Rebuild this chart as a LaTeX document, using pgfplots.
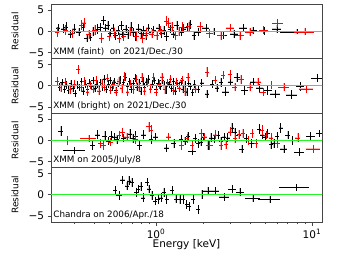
\documentclass[border=0pt]{standalone}
\usepackage{pgfplots}
\usepackage{pgfplotstable}
\pgfplotsset{compat=1.18}
\usepackage{fontspec}
\setmainfont{DejaVu Sans}
\definecolor{limeg}{RGB}{40,245,40}
\definecolor{frame}{RGB}{70,70,70}

% ---------- Panel 1: XMM faint ----------
\pgfplotstableread{
x y ex ey
0.235 0.8 0.035 1.0
0.253 0.6 0.035 1.0
0.265 1.0 0.035 1.1
0.281 -0.6 0.035 1.0
0.298 0.6 0.035 1.0
0.320 -0.2 0.035 1.0
0.340 1.0 0.035 1.1
0.360 -1.6 0.035 1.0
0.378 -1.4 0.035 1.0
0.393 0.0 0.035 1.0
0.420 0.5 0.035 1.1
0.440 1.0 0.035 1.0
0.460 2.5 0.035 1.1
0.475 0.8 0.035 1.0
0.490 1.4 0.035 1.1
0.510 -0.4 0.035 1.0
0.530 0.8 0.035 1.0
0.550 -1.0 0.035 1.0
0.570 0.2 0.035 1.0
0.600 1.4 0.035 1.1
0.610 -0.6 0.035 1.0
0.640 0.5 0.035 1.0
0.660 -0.8 0.035 1.0
0.690 1.0 0.035 1.1
0.710 -0.2 0.035 1.0
0.740 -1.2 0.035 1.0
0.770 0.6 0.035 1.0
0.800 -0.5 0.035 1.0
0.830 0.2 0.035 1.0
0.860 -1.0 0.035 1.0
0.890 0.8 0.035 1.0
0.930 -0.3 0.035 1.0
0.960 0.3 0.035 1.0
1.000 -1.0 0.035 1.0
1.040 0.8 0.035 1.0
1.080 -0.5 0.035 1.0
1.120 0.2 0.035 1.0
1.170 -1.2 0.035 1.0
1.230 0.5 0.035 1.0
1.290 -0.6 0.035 1.0
1.360 1.4 0.035 1.1
1.450 -0.2 0.035 1.0
1.500 0.6 0.035 1.0
1.580 1.0 0.035 1.0
1.650 1.6 0.035 1.0
1.750 -1.0 0.035 1.0
1.860 -0.2 0.04 1.0
2.090 0.8 0.05 1.0
2.350 0.0 0.06 0.8
2.690 -1.0 0.06 0.8
3.160 -0.6 0.06 0.9
3.610 0.8 0.06 0.9
4.180 0.2 0.06 0.9
4.930 0.0 0.07 0.9
5.960 0.6 0.07 0.9
8.000 -0.1 0.22 0.6
}\pA
\pgfplotstableread{
x y ex ey
0.232 -0.2 0.035 1.2
0.262 0.3 0.035 1.2
0.290 -0.5 0.035 1.1
0.330 1.4 0.035 1.2
0.345 2.0 0.035 1.2
0.370 -0.8 0.035 1.1
0.405 0.3 0.035 1.2
0.445 -1.6 0.035 1.1
0.500 -1.2 0.035 1.1
0.540 -0.4 0.035 1.1
0.580 -1.6 0.035 1.1
0.620 -1.2 0.035 1.1
0.680 0.0 0.035 1.1
0.750 -1.2 0.035 1.1
0.820 -1.6 0.035 1.1
0.870 -0.4 0.035 1.1
0.940 -0.6 0.035 1.1
1.010 -1.0 0.035 1.1
1.070 0.2 0.035 1.1
1.170 2.4 0.035 1.2
1.200 2.0 0.035 1.2
1.260 1.0 0.035 1.1
1.330 -1.0 0.035 1.1
1.400 0.0 0.035 1.1
1.480 1.0 0.035 1.1
1.620 1.1 0.04 1.1
1.920 1.1 0.045 1.1
2.200 -0.5 0.05 1.0
2.600 -1.0 0.06 1.0
3.000 0.8 0.06 1.0
3.450 -1.0 0.07 1.0
4.000 -0.2 0.07 1.0
4.900 0.3 0.07 1.0
6.000 1.9 0.08 1.0
9.000 -0.1 0.15 0.8
}\pAr

% ---------- Panel 2: XMM bright ----------
\pgfplotstableread{
x y ex ey
0.240 -0.3 0.025 0.9
0.250 0.8 0.025 0.9
0.258 -0.8 0.025 0.9
0.266 0.2 0.025 0.9
0.275 -1.0 0.025 0.9
0.284 0.5 0.025 0.9
0.293 -0.6 0.025 0.9
0.302 -1.8 0.025 0.9
0.312 0.2 0.025 0.9
0.322 -0.4 0.025 0.9
0.332 1.0 0.025 0.9
0.342 -1.2 0.025 0.9
0.352 0.4 0.025 0.9
0.362 -0.8 0.025 0.9
0.372 0.6 0.025 0.9
0.383 -0.2 0.025 0.9
0.394 1.2 0.025 0.9
0.405 -0.6 0.025 0.9
0.417 0.3 0.025 0.9
0.429 -1.0 0.025 0.9
0.441 0.8 0.025 0.9
0.454 -0.4 0.025 0.9
0.467 1.6 0.025 0.9
0.480 -0.8 0.025 0.9
0.494 0.4 0.025 0.9
0.508 1.2 0.025 0.9
0.523 -0.3 0.025 0.9
0.538 0.9 0.025 0.9
0.553 -1.1 0.025 0.9
0.569 0.6 0.025 0.9
0.585 1.4 0.025 0.9
0.602 -0.5 0.025 0.9
0.619 0.8 0.025 0.9
0.637 2.0 0.025 0.9
0.655 -0.2 0.025 0.9
0.674 1.0 0.025 0.9
0.693 -0.9 0.025 0.9
0.713 0.5 0.025 0.9
0.733 1.8 0.025 0.9
0.754 -0.4 0.025 0.9
0.776 0.7 0.025 0.9
0.798 -1.2 0.025 0.9
0.821 1.1 0.025 0.9
0.845 -0.3 0.025 0.9
0.869 0.9 0.025 0.9
0.894 1.6 0.025 0.9
0.920 -0.6 0.025 0.9
0.946 0.4 0.025 0.9
0.973 1.2 0.025 0.9
1.001 -0.8 0.025 0.9
1.030 0.6 0.025 0.9
1.060 -0.2 0.025 0.9
1.090 1.3 0.025 0.9
1.121 0.1 0.025 0.9
1.153 -1.0 0.025 0.9
1.186 0.8 0.025 0.9
1.220 0.3 0.025 0.9
1.255 -0.6 0.025 0.9
1.291 1.0 0.025 0.9
1.328 -1.2 0.025 0.9
1.366 0.5 0.025 0.9
1.405 -0.3 0.025 0.9
1.445 0.9 0.025 0.9
1.487 -0.8 0.025 0.9
1.530 0.2 0.025 0.9
1.574 -1.4 0.025 0.9
1.619 0.6 0.025 0.9
1.666 -0.2 0.025 0.9
1.714 -1.6 0.025 0.9
1.764 0.4 0.025 0.9
1.860 -0.9 0.03 0.9
1.960 0.7 0.03 0.9
2.120 -1.9 0.03 1.0
2.300 0.4 0.03 1.0
2.450 -0.5 0.03 1.0
2.600 0.8 0.03 1.0
2.780 -1.4 0.05 1.0
3.000 0.9 0.04 1.0
3.300 1.9 0.04 1.0
3.700 -1.1 0.05 1.0
4.200 0.9 0.05 1.0
4.600 -0.5 0.05 1.0
5.200 -1.1 0.06 1.0
5.800 -1.9 0.07 1.0
7.400 -2.1 0.08 1.0
8.400 -0.2 0.06 1.0
10.80 1.8 0.09 0.9
}\pB
\pgfplotstableread{
x y ex ey
0.232 1.1 0.025 1.0
0.245 -0.4 0.025 1.0
0.262 0.8 0.025 1.0
0.280 -0.9 0.025 1.0
0.300 0.4 0.025 1.0
0.316 3.8 0.025 1.1
0.330 -0.4 0.025 1.0
0.346 1.0 0.025 1.0
0.362 -1.4 0.025 1.0
0.378 0.2 0.025 1.0
0.395 -0.8 0.025 1.0
0.412 1.3 0.025 1.0
0.430 -1.2 0.025 1.0
0.449 0.5 0.025 1.0
0.468 -0.3 0.025 1.0
0.488 1.8 0.025 1.0
0.509 -1.0 0.025 1.0
0.531 0.3 0.025 1.0
0.554 -1.5 0.025 1.0
0.578 1.1 0.025 1.0
0.603 -0.6 0.025 1.0
0.629 2.2 0.025 1.0
0.656 -1.4 0.025 1.0
0.684 0.4 0.025 1.0
0.714 -0.9 0.025 1.0
0.745 1.5 0.025 1.0
0.777 -0.4 0.025 1.0
0.810 2.0 0.025 1.0
0.845 -1.2 0.025 1.0
0.882 0.6 0.025 1.0
0.920 -0.7 0.025 1.0
0.960 1.9 0.025 1.0
1.001 -1.5 0.025 1.0
1.045 0.3 0.025 1.0
1.090 2.1 0.025 1.0
1.137 -0.9 0.025 1.0
1.186 0.6 0.025 1.0
1.238 1.6 0.025 1.0
1.292 -1.1 0.025 1.0
1.348 0.9 0.025 1.0
1.406 -0.5 0.025 1.0
1.467 1.4 0.025 1.0
1.531 -1.3 0.025 1.0
1.600 2.0 0.03 1.0
1.780 -0.7 0.03 1.0
2.120 3.2 0.03 1.1
2.400 1.3 0.03 1.0
2.700 2.5 0.03 1.0
3.000 2.7 0.03 1.0
3.200 -0.3 0.04 1.0
3.500 1.5 0.04 1.0
4.000 -0.3 0.04 1.0
4.500 0.9 0.04 1.0
4.850 -1.5 0.05 1.0
5.500 0.1 0.08 0.9
6.600 -0.3 0.08 0.9
9.200 -0.7 0.10 0.9
}\pBr

% ---------- Panel 3: XMM 2005 ----------
\pgfplotstableread{
x y ex ey
0.245 2.1 0.04 1.2
0.300 -2.4 0.16 0.8
0.390 -1.2 0.04 1.0
0.420 1.3 0.04 1.1
0.470 1.0 0.035 1.1
0.495 -0.2 0.035 1.0
0.515 1.0 0.035 1.1
0.540 0.8 0.035 1.0
0.560 0.2 0.035 1.0
0.620 0.5 0.035 1.0
0.680 1.5 0.035 1.1
0.710 0.4 0.035 1.0
0.740 1.0 0.035 1.1
0.780 -1.2 0.035 1.0
0.830 1.3 0.035 1.1
0.930 0.2 0.035 1.0
0.990 0.8 0.035 1.0
1.170 -1.8 0.035 1.0
1.300 -0.8 0.035 1.0
1.450 0.3 0.03 1.0
1.530 -0.2 0.03 1.0
1.600 1.0 0.03 1.0
1.710 -2.6 0.06 0.9
1.780 0.4 0.03 1.0
1.860 -0.8 0.03 1.0
1.940 -0.4 0.03 1.0
2.000 0.8 0.03 1.0
2.150 -1.2 0.03 1.0
2.250 0.6 0.03 1.0
2.360 0.4 0.03 1.0
2.500 1.2 0.03 1.0
2.600 -0.3 0.03 1.0
2.730 0.8 0.03 1.0
2.880 0.6 0.03 1.0
3.060 2.9 0.03 1.1
3.200 1.8 0.03 1.0
3.380 1.2 0.03 1.0
3.550 -2.1 0.04 1.0
3.800 0.4 0.03 1.0
4.100 -0.8 0.04 1.0
4.600 2.6 0.03 1.1
4.800 1.3 0.03 1.0
5.000 0.8 0.03 1.0
5.200 1.6 0.03 1.0
5.450 -1.0 0.03 1.0
5.700 -0.8 0.03 1.0
6.000 1.0 0.03 1.0
6.300 2.9 0.03 1.1
6.600 -2.0 0.05 1.0
7.000 1.2 0.04 1.0
7.500 0.0 0.04 1.0
8.300 -2.8 0.07 0.9
9.800 1.0 0.07 0.9
11.20 1.6 0.05 0.9
}\pC
\pgfplotstableread{
x y ex ey
0.270 0.0 0.04 1.1
0.370 0.4 0.12 0.8
0.440 -0.8 0.035 1.0
0.460 -1.2 0.035 1.0
0.510 -0.4 0.035 1.0
0.580 1.2 0.035 1.0
0.610 1.8 0.035 1.1
0.650 0.8 0.035 1.0
0.740 0.2 0.035 1.0
0.900 3.2 0.035 1.2
0.930 2.4 0.035 1.2
1.200 0.8 0.035 1.0
1.450 -1.2 0.035 1.0
1.580 0.4 0.03 1.0
1.700 -1.2 0.03 1.0
1.950 1.6 0.03 1.0
2.050 0.8 0.03 1.0
2.200 -1.2 0.05 1.0
2.400 1.3 0.03 1.0
2.600 -1.2 0.03 1.0
2.800 -1.0 0.03 1.0
3.000 2.0 0.03 1.0
3.200 0.4 0.03 1.0
3.400 1.4 0.03 1.0
3.600 1.6 0.03 1.0
3.900 0.0 0.03 1.0
4.150 1.6 0.03 1.0
4.400 -0.8 0.03 1.0
4.800 2.4 0.03 1.1
5.100 1.2 0.03 1.0
5.500 0.6 0.03 1.0
6.000 -0.8 0.04 1.0
8.100 0.6 0.04 1.0
10.20 -2.0 0.10 0.9
}\pCr

% ---------- Panel 4: Chandra ----------
\pgfplotstableread{
x y ex ey
0.546 1.1 0.03 1.0
0.580 -0.2 0.05 1.0
0.610 3.5 0.03 1.0
0.650 2.1 0.03 1.0
0.670 3.3 0.03 1.0
0.700 2.9 0.03 1.0
0.745 0.5 0.03 1.0
0.770 1.3 0.03 1.0
0.800 1.9 0.03 1.0
0.825 -0.7 0.03 1.0
0.875 3.0 0.03 1.0
0.900 1.4 0.03 1.0
0.940 -0.2 0.03 1.0
0.985 -1.5 0.03 1.0
1.030 -1.1 0.03 1.0
1.080 -0.7 0.03 1.0
1.120 0.5 0.03 1.0
1.170 -1.1 0.03 1.0
1.270 1.1 0.03 1.0
1.340 -1.0 0.03 1.0
1.420 -1.1 0.03 1.0
1.490 -1.1 0.03 1.0
1.570 -2.3 0.03 1.0
1.630 -2.7 0.03 1.0
1.730 -1.1 0.03 1.0
1.860 -3.5 0.03 1.0
1.970 0.1 0.035 1.0
2.150 0.9 0.066 1.0
2.390 0.9 0.066 1.0
2.730 -0.5 0.075 1.0
3.070 1.3 0.06 1.0
3.450 0.6 0.06 1.0
4.180 -0.9 0.11 0.8
5.370 -1.1 0.16 0.8
7.900 1.7 0.22 0.9
}\pD

\pgfplotstableread{
x y
0.15 0
15 0
}\zl

\pgfplotsset{
  every axis/.style={
    xmode=log, scale only axis, width=271pt, height=54.5pt,
    xmin=0.212, xmax=11.6, ymin=-6.4, ymax=6.4,
    ytick={-5,0,5}, yticklabels={−5,0,5},
    tick align=outside, ytick pos=left, xtick pos=bottom,
    major tick length=3.5pt, minor tick length=2pt,
    tick style={frame, line width=0.6pt},
    axis line style={frame, line width=0.7pt},
    ticklabel style={font=\fontsize{10.5}{11}\selectfont},
    anchor=south west,
  },
  dat/.style={ylabel={Residual},
    ylabel style={font=\fontsize{9}{10}\selectfont, at={(axis description cs:-0.133,0.5)}, anchor=center}},
  ov/.style={hide axis, xtick=\empty, ytick=\empty},
  eb/.style 2 args={mark=none, draw=none, error bars/.cd, x dir=both, x explicit relative, y dir=both, y explicit, error mark=none, error bar style={line width=#2, #1}},
}
\newcommand{\blk}[1]{%
  \addplot[eb={black!22}{0.9pt}] table[x=x,y=y,x error=ex,y error=ey] {#1};
  \addplot[eb={black}{0.35pt}] table[x=x,y=y,x error=ex,y error=ey] {#1};
}
\newcommand{\rd}[1]{%
  \addplot[eb={red!28}{0.9pt}] table[x=x,y=y,x error=ex,y error=ey] {#1};
  \addplot[eb={red}{0.35pt}] table[x=x,y=y,x error=ex,y error=ey] {#1};
}
\newcommand{\zeroline}{\addplot[draw=limeg, line width=1.3pt, mark=none] table[x=x,y=y] {\zl};}
\newcommand{\lab}[1]{\node[anchor=south west, inner sep=0pt, font=\fontsize{8.8}{10}\selectfont] at (axis description cs:0.008,0.05) {#1};}

\begin{document}
\begin{tikzpicture}
\path[use as bounding box] (0,0) rectangle (339pt,255pt);
\begin{axis}[dat, at={(51pt,196.5pt)}, xtick=\empty, minor xtick={}]
\blk{\pA}
\rd{\pAr}
\lab{XMM (faint)\ \ on 2021/Dec./30}
\end{axis}
\begin{axis}[dat, at={(51pt,142pt)}, xtick=\empty, minor xtick={}]
\blk{\pB}
\rd{\pBr}
\lab{XMM (bright) on 2021/Dec./30}
\end{axis}
\begin{axis}[dat, at={(51pt,87.5pt)}, xtick=\empty, minor xtick={}]
\blk{\pC}
\rd{\pCr}
\lab{XMM on 2005/July/8}
\end{axis}
\begin{axis}[dat, at={(51pt,33pt)},
  xtick={1,10}, xticklabels={10\textsuperscript{0},10\textsuperscript{1}},
  minor xtick={0.3,0.4,0.5,0.6,0.7,0.8,0.9,2,3,4,5,6,7,8,9},
  xlabel={Energy [keV]},
  xlabel style={font=\fontsize{10.5}{11}\selectfont, at={(axis description cs:0.5,-0.42)}, anchor=center}]
\blk{\pD}
\lab{Chandra on 2006/Apr./18}
\end{axis}
% zero lines on top of the data
\begin{axis}[ov, at={(51pt,196.5pt)}]
\zeroline
\end{axis}
\begin{axis}[ov, at={(51pt,142pt)}]
\zeroline
\end{axis}
\begin{axis}[ov, at={(51pt,87.5pt)}]
\zeroline
\end{axis}
\begin{axis}[ov, at={(51pt,33pt)}]
\zeroline
\end{axis}
\end{tikzpicture}
\end{document}
